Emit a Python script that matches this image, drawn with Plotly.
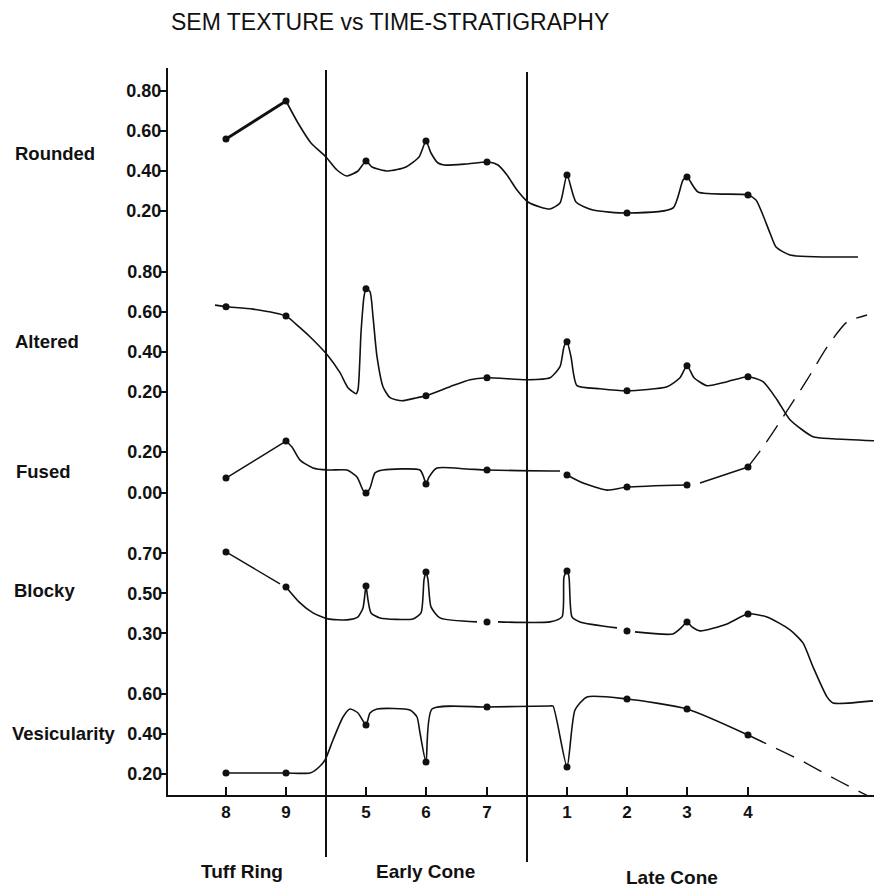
import plotly.graph_objects as go

# ---------------- data ----------------
title_text = "SEM TEXTURE vs TIME-STRATIGRAPHY"
sample_labels = ["8", "9", "5", "6", "7", "1", "2", "3", "4"]
sample_pos = [60, 120, 200, 260, 321, 401, 461, 521, 582]   # position along section (arbitrary units)
boundaries = [160, 361]
group_names = ["Tuff Ring", "Early Cone", "Late Cone"]
group_pos = [76, 259, 506]

# Rounded
rounded_dots = [0.56, 0.75, 0.45, 0.55, 0.445, 0.38, 0.19, 0.37, 0.28]
rounded_bold_x = [60, 120]
rounded_bold_y = [0.56, 0.75]
rounded_x = [120, 132, 145, 160, 171, 181, 192, 200, 206, 222, 240, 253, 260, 265, 272, 278, 300, 322,
             332, 341, 351, 362, 374, 384, 394, 401, 410, 427, 461, 507, 517, 521, 532, 582, 590, 604,
             610, 624, 692]
rounded_y = [0.75, 0.64, 0.54, 0.47, 0.405, 0.375, 0.40, 0.45, 0.42, 0.40, 0.42, 0.47, 0.55, 0.49,
             0.44, 0.43, 0.435, 0.445, 0.43, 0.38, 0.305, 0.245, 0.22, 0.21, 0.24, 0.38, 0.245, 0.205,
             0.19, 0.215, 0.355, 0.37, 0.295, 0.28, 0.255, 0.09, 0.02, -0.02, -0.03]

# Altered
altered_dots = [0.625, 0.578, 0.715, 0.18, 0.27, 0.45, 0.205, 0.33, 0.275]
altered_x = [49, 60, 87, 120, 134, 147, 162, 174, 182, 190, 192, 195, 198, 200, 204, 207, 211, 217,
             224, 236, 251, 260, 284, 304, 321, 361, 384, 394, 398, 401, 405, 411, 434, 461, 501, 514,
             521, 528, 541, 561, 582, 597, 611, 624, 647, 667, 708]
altered_y = [0.633, 0.625, 0.613, 0.578, 0.52, 0.46, 0.38, 0.295, 0.22, 0.19, 0.21, 0.495, 0.675,
             0.715, 0.70, 0.575, 0.375, 0.225, 0.17, 0.155, 0.17, 0.18, 0.225, 0.26, 0.27, 0.26, 0.27,
             0.325, 0.425, 0.45, 0.375, 0.23, 0.215, 0.205, 0.225, 0.27, 0.33, 0.27, 0.23, 0.25, 0.275,
             0.25, 0.16, 0.06, -0.025, -0.035, -0.045]

# Fused
fused_seg_x = [60, 120]
fused_seg_y = [0.072, 0.251]
fused_x = [120, 126, 134, 147, 162, 181, 191, 197, 200, 204, 209, 217, 254, 258, 260, 263, 271,
           301, 321, 384, 394, None, 401, 417, 441, 461, 521, None, 534, 582]
fused_y = [0.251, 0.222, 0.159, 0.121, 0.111, 0.111, 0.077, 0.014, 0.0, 0.024, 0.097, 0.111,
           0.111, 0.072, 0.043, 0.077, 0.121, 0.116, 0.111, 0.106, 0.106, None, 0.087, 0.048, 0.014,
           0.029, 0.039, None, 0.048, 0.126]
fused_dots = [0.072, 0.251, 0.0, 0.043, 0.111, 0.087, 0.029, 0.039, 0.126]
fused_dash_x = [582, 597, 617, 641, 661, 681, 701]
fused_dash_y = [0.126, 0.222, 0.367, 0.546, 0.705, 0.826, 0.86]

# Blocky
blocky_dots = [0.707, 0.532, 0.537, 0.607, 0.357, 0.612, 0.312, 0.357, 0.397]
blocky_seg_x = [60, 114]
blocky_seg_y = [0.707, 0.547]
blocky_x = [120, 134, 147, 162, 181, 192, 197, 199, 200, 202, 205, 214, 247, 255, 258,
            260, 262, 265, 274, 311, None, 332, 384, 396, 398, 401, 403, 406, 414, 451, None, 469, 507,
            516, 521, 526, 534, 561, 582, 601, 624, 637, 647, 661, 667, 707]
blocky_y = [0.532, 0.452, 0.402, 0.372, 0.367, 0.382, 0.427, 0.50, 0.537, 0.467,
            0.402, 0.377, 0.372, 0.402, 0.567, 0.607, 0.567, 0.432, 0.377, 0.357, None, 0.357, 0.357,
            0.382, 0.582, 0.612, 0.582, 0.382, 0.357, 0.327, None, 0.307, 0.297, 0.332, 0.357, 0.332,
            0.312, 0.347, 0.397, 0.382, 0.317, 0.252, 0.132, -0.018, -0.048, -0.038]

# Vesicularity
vesic_dots = [0.205, 0.205, 0.445, 0.26, 0.535, 0.235, 0.575, 0.525, 0.395]
vesic_x = [60, 120, 144, 152, 159, 167, 177, 184, 192, 200, 204, 211, 244, 251, 254, 260, 266, 321,
           384, 387, 401, 409, 421, 461, 521, 582]
vesic_y = [0.205, 0.205, 0.205, 0.23, 0.27, 0.37, 0.485, 0.525, 0.505, 0.445, 0.505, 0.525, 0.52,
           0.485, 0.405, 0.26, 0.525, 0.535, 0.54, 0.54, 0.235, 0.52, 0.585, 0.575, 0.525, 0.395]
vesic_dash_x = [582, 634, 671, 704]
vesic_dash_y = [0.395, 0.27, 0.17, 0.085]

panel_names = ["Rounded", "Altered", "Fused", "Blocky", "Vesicularity"]
panel_ticks = [
    [0.20, 0.40, 0.60, 0.80],
    [0.20, 0.40, 0.60, 0.80],
    [0.00, 0.20],
    [0.30, 0.50, 0.70],
    [0.20, 0.40, 0.60],
]

# ---------------- layout geometry ----------------
W, H = 874, 887
PL, PR, PT, PB = 168, 0, 68, 92
plot_top, plot_bot = PT, H - PB
panel_zero_px = [251, 431.7, 493, 693.3, 814]
panel_ppu = [200, 200, 207, 200, 200]
label_px = [(13, 153), (13, 341), (14, 472), (12, 590), (10, 733)]

FONT = "Liberation Sans, Arial, sans-serif"
BLACK = "#111111"

def px_to_paper_y(py):
    return (plot_bot - py) / (plot_bot - plot_top)

def px_to_paper_x(px):
    return (px - PL) / (W - PL - PR)

fig = go.Figure()
axis_ids = ["y", "y2", "y3", "y4", "y5"]

panels = [
    dict(dots=rounded_dots, x=rounded_x, y=rounded_y),
    dict(dots=altered_dots, x=altered_x, y=altered_y),
    dict(dots=fused_dots, x=fused_x, y=fused_y, dx=fused_dash_x, dy=fused_dash_y,
         sx=fused_seg_x, sy=fused_seg_y),
    dict(dots=blocky_dots, x=blocky_x, y=blocky_y, sx=blocky_seg_x, sy=blocky_seg_y),
    dict(dots=vesic_dots, x=vesic_x, y=vesic_y, dx=vesic_dash_x, dy=vesic_dash_y),
]

line_style = dict(color=BLACK, width=1.6, shape="spline", smoothing=0.6)

for i, p in enumerate(panels):
    ya = axis_ids[i]
    fig.add_trace(go.Scatter(x=p["x"], y=p["y"], yaxis=ya, mode="lines",
                             line=line_style, connectgaps=False, showlegend=False,
                             hoverinfo="skip"))
    if "sx" in p:
        fig.add_trace(go.Scatter(x=p["sx"], y=p["sy"], yaxis=ya, mode="lines",
                                 line=dict(color=BLACK, width=1.4), showlegend=False,
                                 hoverinfo="skip"))
    if "dx" in p:
        fig.add_trace(go.Scatter(x=p["dx"], y=p["dy"], yaxis=ya, mode="lines",
                                 line=dict(color=BLACK, width=1.4, dash="20px,11px",
                                           shape="spline", smoothing=0.6),
                                 showlegend=False, hoverinfo="skip"))
    fig.add_trace(go.Scatter(x=sample_pos, y=p["dots"], yaxis=ya, mode="markers",
                             marker=dict(color=BLACK, size=7), showlegend=False,
                             name=panel_names[i]))

fig.add_trace(go.Scatter(x=rounded_bold_x, y=rounded_bold_y, yaxis="y", mode="lines",
                         line=dict(color=BLACK, width=2.8), showlegend=False, hoverinfo="skip"))

layout_axes = {}
for i, ya in enumerate(axis_ids):
    z, s = panel_zero_px[i], panel_ppu[i]
    rng = [(z - plot_bot) / s, (z - plot_top) / s]
    ax = dict(
        domain=[0, 1], range=rng, anchor="x", side="left",
        tickvals=panel_ticks[i], ticktext=[f"{t:.2f}" for t in panel_ticks[i]],
        ticks="outside", ticklen=6, tickwidth=1.5, tickcolor=BLACK,
        tickfont=dict(family=FONT, size=18, color=BLACK, weight="bold"),
        ticklabelstandoff=-5,
        showgrid=False, zeroline=False, fixedrange=True,
        showline=(i == 0), linecolor=BLACK, linewidth=2, automargin=False,
    )
    if i > 0:
        ax["overlaying"] = "y"
    key = "yaxis" if i == 0 else f"yaxis{i + 1}"
    layout_axes[key] = ax

fig.update_layout(
    width=W, height=H,
    margin=dict(l=PL, r=PR, t=PT, b=PB),
    paper_bgcolor="white", plot_bgcolor="white",
    showlegend=False,
    xaxis=dict(range=[2, 708], tickvals=sample_pos, ticktext=sample_labels,
               ticks="inside", ticklen=8, tickwidth=1.5, tickcolor=BLACK,
               tickfont=dict(family=FONT, size=17, color=BLACK, weight="bold"),
               showline=True, linecolor=BLACK, linewidth=2, showgrid=False,
               zeroline=False, fixedrange=True, ticklabelstandoff=1, automargin=False),
    **layout_axes,
)

bottoms = [857, 862]
tops = [70, 72]
for bx, b, t in zip(boundaries, bottoms, tops):
    fig.add_shape(type="line", xref="x", yref="paper", x0=bx, x1=bx,
                  y0=px_to_paper_y(b), y1=px_to_paper_y(t),
                  line=dict(color=BLACK, width=2))

group_py = [871, 871, 877]
for name, gx, gy in zip(group_names, group_pos, group_py):
    fig.add_annotation(x=gx, y=px_to_paper_y(gy), xref="x", yref="paper", text=name,
                       showarrow=False, xanchor="center", yanchor="middle",
                       font=dict(family=FONT, size=19, color=BLACK, weight="bold"))

for name, (lx, ly) in zip(panel_names, label_px):
    fig.add_annotation(x=px_to_paper_x(lx), y=px_to_paper_y(ly), xref="paper", yref="paper",
                       text=name, showarrow=False, xanchor="left", yanchor="middle",
                       font=dict(family=FONT, size=18.5, color=BLACK, weight="bold"))

fig.add_annotation(x=px_to_paper_x(390), y=px_to_paper_y(22), xref="paper", yref="paper",
                   text=title_text, showarrow=False, xanchor="center", yanchor="middle",
                   font=dict(family=FONT, size=23, color=BLACK))

fig.write_html("out.html")
